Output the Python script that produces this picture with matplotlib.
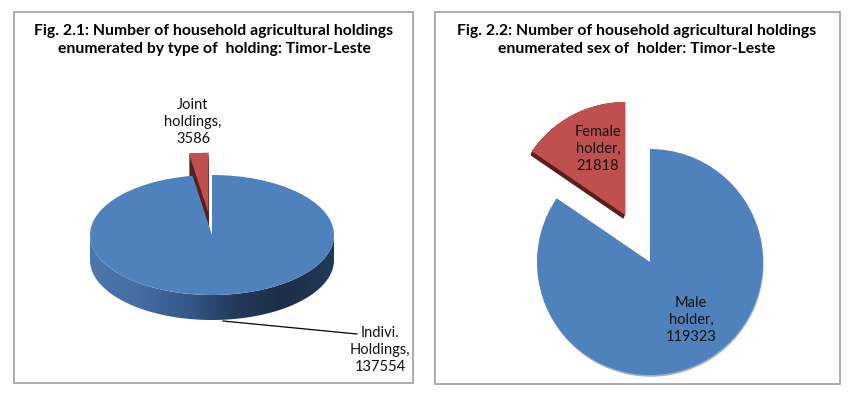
import matplotlib
matplotlib.use('Agg')
import matplotlib.pyplot as plt
import numpy as np
from matplotlib.patches import Rectangle, Polygon
from matplotlib.colors import LinearSegmentedColormap

plt.rcParams['font.family'] = ['Lato', 'DejaVu Sans']

# data
type_labels = ['Joint\nholdings,\n3586', 'Indivi.\nHoldings,\n137554']
type_values = [3586, 137554]
sex_labels = ['Female\nholder,\n21818', 'Male\nholder,\n119323']
sex_values = [21818, 119323]

title_1 = 'Fig. 2.1: Number of household agricultural holdings\nenumerated by type of  holding: Timor-Leste'
title_2 = 'Fig. 2.2: Number of household agricultural holdings\nenumerated sex of  holder: Timor-Leste'

blue = '#4f81bd'
red = '#c0504d'
dark_red = '#5a1e1c'

W, H = 856, 394
fig = plt.figure(figsize=(W / 100, H / 100), dpi=100)

# background axes in pixel units, for frames and titles
bg = fig.add_axes([0, 0, 1, 1])
bg.set_xlim(0, W)
bg.set_ylim(H, 0)
bg.axis('off')
bg.add_patch(Rectangle((14, 12), 399, 371, fill=False, ec='#a6a6a6', lw=1.3))
bg.add_patch(Rectangle((435, 12), 405, 372, fill=False, ec='#a6a6a6', lw=1.3))
bg.text(214, 40, title_1, ha='center', va='center', fontsize=11.3,
        fontweight='bold', linespacing=1.35)
bg.text(637, 40, title_2, ha='center', va='center', fontsize=11.3,
        fontweight='bold', linespacing=1.35)


def pie_axes(box, cx, cy, rx, ry):
    # box = left, top, right, bottom in pixels; unit circle maps to rx x ry px
    l, t, r, b = box
    ax = fig.add_axes([l / W, 1 - b / H, (r - l) / W, (b - t) / H])
    ax.axis('off')
    ax.patch.set_alpha(0)
    return ax


def fix_limits(ax, box, cx, cy, rx, ry):
    l, t, r, b = box
    ax.set_aspect('auto')
    ax.set_xlim((l - cx) / rx, (r - cx) / rx)
    ax.set_ylim((cy - b) / ry, (cy - t) / ry)


# ---- Fig 2.1: 3D pie ----
box1 = (15, 13, 412, 382)
cx1, cy1, rx1, ry1 = 212, 235, 122, 60
ax1 = pie_axes(box1, cx1, cy1, rx1, ry1)
depth = 25 / ry1
explode1 = [0.37, 0]

# red slice side (dark) then top
for d in np.linspace(depth, 0, 12):
    ax1.pie(type_values, explode=explode1, colors=[dark_red, 'none'],
            startangle=90, center=(0, -d), radius=1,
            wedgeprops=dict(linewidth=0))
ax1.pie(type_values, explode=explode1, colors=[red, 'none'],
        startangle=90, wedgeprops=dict(linewidth=0))

# blue side wall with horizontal gradient
th = np.linspace(np.pi, 2 * np.pi, 200)
pts = np.concatenate([np.c_[np.cos(th), np.sin(th)],
                      np.c_[np.cos(th[::-1]), np.sin(th[::-1]) - depth]])
side = Polygon(pts, closed=True, fc='none', ec='none')
ax1.add_patch(side)
side_cmap = LinearSegmentedColormap.from_list(
    'side', ['#4a77ad', '#446ea2', '#36588a', '#24395a', '#1c2e48', '#223a5a'])
grad = np.linspace(0, 1, 256)[None, :]
img = ax1.imshow(grad, cmap=side_cmap, aspect='auto',
                 extent=(-1, 1, -1 - depth, 0), zorder=1)
img.set_clip_path(side)

# blue top
wedges, _ = ax1.pie(type_values, colors=['none', blue], startangle=90,
                    wedgeprops=dict(linewidth=0))
for w in wedges:
    w.set_zorder(2)

fix_limits(ax1, box1, cx1, cy1, rx1, ry1)

# labels
ax1.text((193 - cx1) / rx1, (cy1 - 122) / ry1, type_labels[0], ha='center',
         va='center', fontsize=10.5, linespacing=1.3, color='#111111', zorder=5)
ax1.text((380 - cx1) / rx1, (cy1 - 350) / ry1, type_labels[1], ha='center',
         va='center', fontsize=10.5, linespacing=1.3, color='#111111', zorder=5)
ax1.plot([(223 - cx1) / rx1, (357 - cx1) / rx1],
         [(cy1 - 321) / ry1, (cy1 - 334) / ry1], color='black', lw=0.9, zorder=5)

# ---- Fig 2.2: exploded pie ----
box2 = (436, 13, 839, 383)
cx2, cy2, r2 = 650, 262, 113
ax2 = pie_axes(box2, cx2, cy2, r2, r2)
explode2 = [0.47, 0]
for d in np.linspace(0.035, 0, 5):
    ax2.pie(sex_values, explode=explode2, colors=[dark_red, 'none'],
            startangle=90, center=(-d * 0.4, -d), wedgeprops=dict(linewidth=0))
ax2.pie(sex_values, explode=explode2, colors=['none', '#9aaec8'],
        startangle=90, center=(0.005, -0.015), wedgeprops=dict(linewidth=0))
ax2.pie(sex_values, explode=explode2, colors=[red, blue], startangle=90,
        wedgeprops=dict(linewidth=0))
fix_limits(ax2, box2, cx2, cy2, r2, r2)

ax2.text((598 - cx2) / r2, (cy2 - 149) / r2, sex_labels[0], ha='center',
         va='center', fontsize=10.5, linespacing=1.3, color='#111111')
ax2.text((691 - cx2) / r2, (cy2 - 320) / r2, sex_labels[1], ha='center',
         va='center', fontsize=10.5, linespacing=1.3, color='#111111')

fig.savefig('out.png', dpi=100)
